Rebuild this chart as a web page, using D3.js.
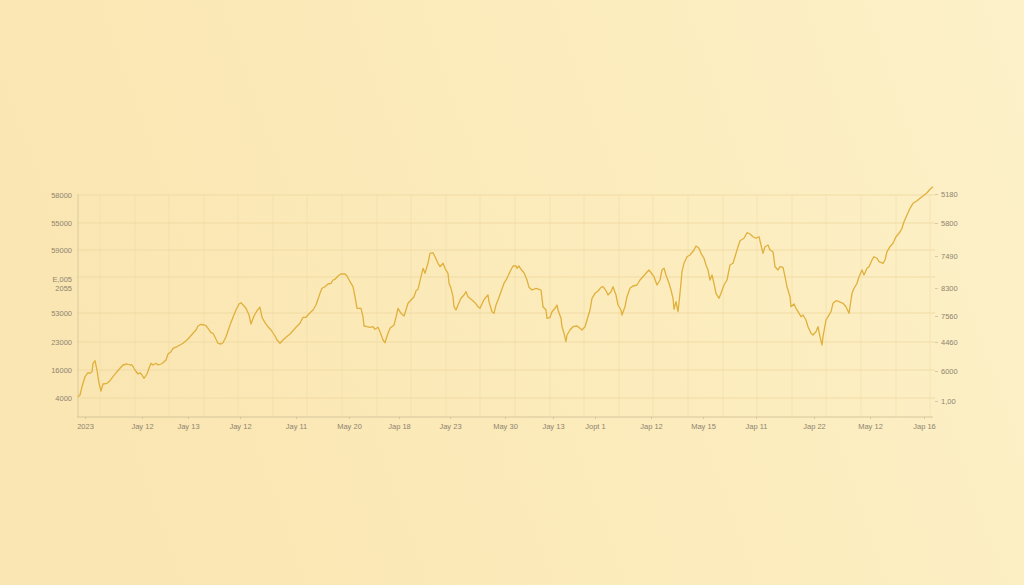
<!DOCTYPE html>
<html><head><meta charset="utf-8">
<script src="https://cdn.jsdelivr.net/npm/d3@7/dist/d3.min.js"></script>
<style>
html,body{margin:0;padding:0;width:1024px;height:585px;overflow:hidden;}
svg{display:block;}
text{font-family:"Liberation Sans","DejaVu Sans",sans-serif;}
</style></head><body>
<svg id="chart" width="1024" height="585"></svg>
<script>
// ---- data (days since start, index value) ----
const days = [1,3,5,8,11,13,15,16,18,20,22,24,26,30,33,36,40,43,46,50,53,55,58,61,63,65,67,70,72,74,76,79,81,84,86,89,91,94,96,100,103,106,110,113,116,119,121,124,127,129,131,134,136,139,141,
144,146,149,153,156,159,162,164,167,169,172,174,177,180,183,185,188,191,194,198,200,203,206,209,213,216,219,223,226,229,233,236,239,243,245,248,251,254,256,258,261,264,268,270,273,276,278,280,283,
284,286,287,290,293,296,298,301,303,306,308,311,313,317,319,321,324,327,329,331,334,337,339,341,344,346,348,351,353,356,358,361,363,366,368,371,372,374,376,377,379,381,384,387,389,391,395,398,401,403,406,408,411,412,415,417,419,421,424,427,
430,433,436,439,440,442,444,447,450,452,455,459,462,464,466,469,470,473,475,478,480,481,484,485,487,489,490,493,496,500,503,505,508,510,513,515,518,521,524,526,529,531,534,536,539,541,544,545,548,550,553,556,560,563,566,569,572,
575,577,580,583,585,587,589,592,594,596,597,599,601,603,605,607,610,613,617,619,622,624,627,629,631,633,635,637,639,642,644,647,650,653,656,658,661,663,667,670,673,676,679,682,684,686,688,691,693,696,698,701,703,706,708,710,713,714,
717,719,721,724,726,729,731,734,736,739,741,743,745,746,749,751,754,756,759,762,766,769,772,775,777,780,782,785,787,790,792,795,797,800,802,806,808,810,813,816,819,822,825,827,830,833,836,840,843,846,850,853,856];
const values = [203,220,303,403,443,437,453,537,563,470,337,260,330,337,363,403,453,487,520,530,520,520,470,430,443,420,387,430,487,537,520,537,520,530,543,570,630,653,687,703,720,737,770,803,837,870,910,927,920,913,887,843,837,777,737,
730,743,803,920,997,1070,1130,1143,1110,1087,1020,930,1010,1063,1097,997,943,903,870,810,770,737,770,797,830,863,897,937,997,997,1043,1070,1120,1237,1287,1303,1330,1337,1370,1377,1410,1430,1430,1410,1353,1303,1203,1087,1087,
1087,1003,910,903,897,903,877,897,853,770,743,837,887,920,997,1087,1037,1010,1070,1137,1170,1203,1263,1277,1403,1487,1437,1537,1637,1643,1603,1537,1503,1537,1487,1437,1337,1287,1203,1103,1070,1120,1187,1220,1253,1203,1170,1143,1103,1087,1153,1187,1220,1153,1053,1037,1120,1170,1253,1337,
1387,1453,1510,1510,1487,1510,1477,1443,1370,1297,1270,1287,1277,1270,1103,1070,987,997,1053,1087,1120,1070,987,903,837,753,820,870,903,910,887,870,903,970,1070,1187,1237,1260,1297,1303,1263,1220,1253,1303,1220,1120,1070,1020,1103,1203,1287,1310,1320,1370,1403,1437,1470,
1430,1403,1320,1370,1470,1487,1420,1337,1270,1187,1077,1153,1053,1237,1453,1537,1603,1620,1670,1710,1687,1637,1587,1520,1470,1370,1420,1337,1237,1187,1237,1320,1370,1520,1537,1603,1703,1763,1787,1843,1830,1803,1787,1803,1720,1637,1703,1720,1670,1653,1503,1470,1503,1497,1403,1303,1203,1103,
1130,1087,1053,1003,1020,970,903,837,820,853,903,803,720,803,970,1003,1053,1137,1163,1153,1137,1103,1037,1237,1287,1337,1403,1470,1420,1487,1503,1570,1603,1587,1553,1537,1570,1653,1703,1737,1803,1837,1887,1953,2020,2087,2137,2163,2187,2210,2243,2277,2303];

const xTickDays = [8,65,111,163,219,272,322,373,428,476,518,574,626,679,737,793,847];
const xTickLabels = ["2023","Jay 12","Jay 13","Jay 12","Jay 11","May 20","Jap 18","Jay 23","May 30","Jay 13","Jopt 1","Jap 12","May 15","Jap 11","Jap 22","May 12","Jap 16"];
const leftTickValues = [2220,1940,1670,1400,1040,750,470,190];
const leftTickLabels = ["58000","55000","59000","E,005|2055","53000","23000","16000","4000"];
const rightTickValues = [2230,1940,1610,1290,1010,750,460,160];
const rightTickLabels = ["5180","5800","7490","8300","7560","4460","6000","1,00"];
const vGridDays = [23,58,92,127,161,196,230,265,300,334,369,403,438,473,507,542,576,611,646,680,715,749,784,819,853];

// ---- layout ----
const svg = d3.select("#chart");
const W = 1024, H = 585;
const padL = 77, padR = 933, padT = 194, padB = 417;

const defs = svg.append("defs");
const bg = defs.append("linearGradient").attr("id","bg").attr("x1","0").attr("y1","0.2").attr("x2","1").attr("y2","0");
bg.append("stop").attr("offset","0%").attr("stop-color","#fae6b2");
bg.append("stop").attr("offset","55%").attr("stop-color","#fcecbd");
bg.append("stop").attr("offset","100%").attr("stop-color","#fdf1c9");
svg.append("rect").attr("width",W).attr("height",H).attr("fill","url(#bg)");

const x = d3.scaleLinear().domain([0,856]).range([padL,padR]);
const y = d3.scaleLinear().domain([0,2230]).range([padB,padT]);

// vertical grid
svg.append("g").selectAll("line").data(vGridDays).join("line")
  .attr("x1",d=>x(d)).attr("x2",d=>x(d)).attr("y1",y(2225)).attr("y2",padB)
  .attr("stroke","#f1dca6").attr("stroke-width",0.8).attr("opacity",0.7);

// horizontal grid
svg.append("g").selectAll("line").data(leftTickValues).join("line")
  .attr("x1",padL).attr("x2",padR+2).attr("y1",d=>y(d)).attr("y2",d=>y(d))
  .attr("stroke","#efd9a2").attr("stroke-width",0.9);

// left axis
const gl = svg.append("g").attr("transform",`translate(${padL+1},0)`)
  .call(d3.axisLeft(y).tickValues(leftTickValues).tickSize(0).tickPadding(6)
    .tickFormat((d,i)=>leftTickLabels[i]));
gl.select(".domain").attr("stroke","#dccb9f").attr("d",`M0,${y(2225)}V${padB}`);
gl.selectAll("text").attr("fill","#8f8470").attr("font-size","7.5px")
  .each(function(d,i){
    const parts = leftTickLabels[i].split("|");
    if(parts.length>1){
      const t = d3.select(this).text(null);
      t.append("tspan").attr("x",-6).attr("dy","0.6em").text(parts[0]);
      t.append("tspan").attr("x",-6).attr("dy","1.25em").text(parts[1]);
    }
  });

// right axis
const gr = svg.append("g").attr("transform",`translate(${padR+2},0)`)
  .call(d3.axisRight(y).tickValues(rightTickValues).tickSize(3).tickPadding(3)
    .tickFormat((d,i)=>rightTickLabels[i]));
gr.select(".domain").remove();
gr.selectAll("line").attr("stroke","#cdbf9e").attr("stroke-width",0.8);
gr.selectAll("text").attr("fill","#8f8470").attr("font-size","7.5px");

// bottom axis
const gb = svg.append("g").attr("transform",`translate(0,${padB})`)
  .call(d3.axisBottom(x).tickValues(xTickDays).tickSize(2).tickPadding(5)
    .tickFormat((d,i)=>xTickLabels[i]));
gb.select(".domain").attr("stroke","#d6c59b").attr("d",`M${padL},0H${padR}`);
gb.selectAll("line").attr("stroke","#d6c59b");
gb.selectAll("text").attr("fill","#8f8470").attr("font-size","7.5px");

// line
const pts = days.map((d,i)=>[d,values[i]]);
svg.append("path").datum(pts)
  .attr("fill","none").attr("stroke","#e0b03c").attr("stroke-width",1.3)
  .attr("stroke-linejoin","round")
  .attr("d", d3.line().x(d=>x(d[0])).y(d=>y(d[1])));
</script>
</body></html>
